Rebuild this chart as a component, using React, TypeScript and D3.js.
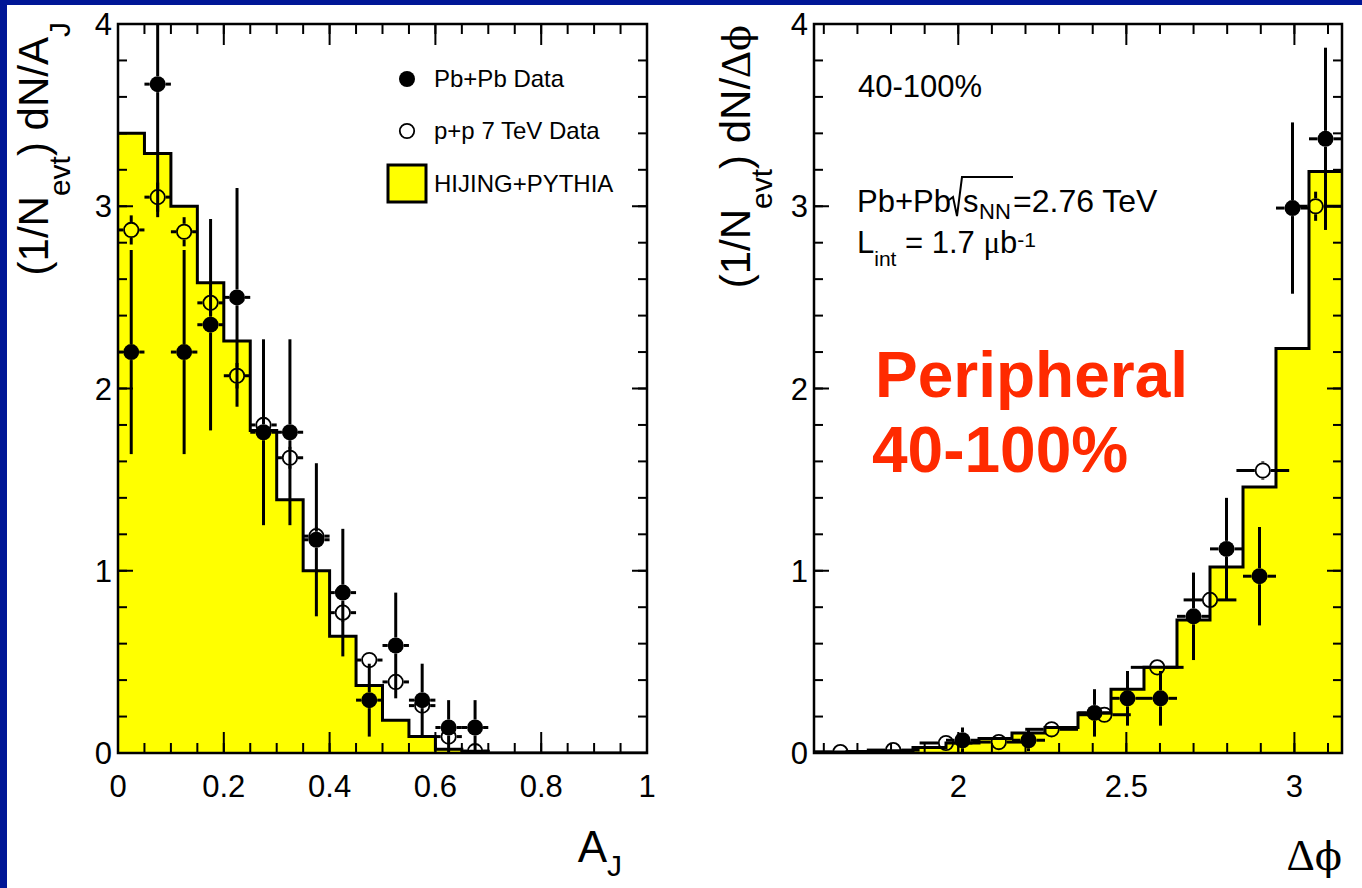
import React from 'react';
import * as d3 from 'd3';

// ---------------- Data: left panel (A_J) ----------------
const ajEdges = [0, 0.05, 0.1, 0.15, 0.2, 0.25, 0.3, 0.35, 0.4, 0.45, 0.5, 0.55, 0.6, 0.65, 0.7, 0.75, 0.8, 0.85, 0.9, 0.95, 1.0];
const ajHijing = [3.40, 3.29, 3.00, 2.58, 2.26, 1.77, 1.39, 1.00, 0.64, 0.37, 0.18, 0.09, 0.02, 0.01, 0, 0, 0, 0, 0, 0];
const ajCenters = [0.025, 0.075, 0.125, 0.175, 0.225, 0.275, 0.325, 0.375, 0.425, 0.475, 0.525, 0.575, 0.625, 0.675];
const ajPbPb = [2.20, 3.67, 2.20, 2.35, 2.50, 1.76, 1.76, 1.17, 0.88, 0.29, 0.59, 0.29, 0.14, 0.14];
const ajPbPbErr = [0.56, 0.73, 0.56, 0.58, 0.60, 0.51, 0.51, 0.42, 0.35, 0.20, 0.29, 0.20, 0.15, 0.15];
const ajPP = [2.87, 3.05, 2.86, 2.47, 2.07, 1.80, 1.62, 1.19, 0.77, 0.51, 0.39, 0.26, 0.09, 0.01];
const ajPPErr = [0.08, 0.08, 0.08, 0.07, 0.07, 0.06, 0.06, 0.05, 0.05, 0.04, 0.04, 0.03, 0.03, 0.02];
const ajHalfWidth = 0.025;

// ---------------- Data: right panel (Delta phi) ----------------
const dphiEdges = [1.5708, 1.6690, 1.7671, 1.8653, 1.9635, 2.0617, 2.1598, 2.2580, 2.3562, 2.4544, 2.5525, 2.6507, 2.7489, 2.8471, 2.9452, 3.0434, 3.1416];
const dphiHijing = [0.005, 0.008, 0.012, 0.03, 0.055, 0.08, 0.11, 0.14, 0.22, 0.35, 0.47, 0.73, 1.02, 1.46, 2.22, 3.19];
const dphiPbPbX = [2.0126, 2.2089, 2.4053, 2.5035, 2.6016, 2.6998, 2.7980, 2.8962, 2.9943, 3.0925];
const dphiPbPb = [0.07, 0.07, 0.22, 0.30, 0.30, 0.75, 1.12, 0.97, 2.99, 3.37];
const dphiPbPbErr = [0.07, 0.06, 0.13, 0.15, 0.15, 0.24, 0.28, 0.27, 0.47, 0.50];
const dphiPbPbHalf = 0.0491;
const dphiPPX = [1.6493, 1.8064, 1.9635, 2.1206, 2.2777, 2.4347, 2.5918, 2.7489, 2.9060, 3.0631];
const dphiPP = [0.005, 0.016, 0.055, 0.06, 0.13, 0.21, 0.47, 0.84, 1.55, 3.00];
const dphiPPErr = [0.005, 0.006, 0.01, 0.01, 0.015, 0.02, 0.03, 0.04, 0.05, 0.08];
const dphiPPHalf = 0.0785;

const yDomain = [0, 4];

const W = 1362;
const H = 888;
const SANS = '"Liberation Sans", Arial, Helvetica, sans-serif';
const SERIF = '"Liberation Serif", "Times New Roman", serif';
const PHI_FONT = '"DejaVu Serif", "Liberation Serif", serif';
const YELLOW = '#ffff00';
const BLUE = '#001696';
const RED = '#ff2a00';
const fmt = d3.format('~g');

type Series = { x: number[]; y: number[]; err: number[]; half: number; filled: boolean };

function Points({ s, x, y, r }: { s: Series; x: d3.ScaleLinear<number, number>; y: d3.ScaleLinear<number, number>; r: number }) {
  const bars: JSX.Element[] = [];
  const marks: JSX.Element[] = [];
  s.x.forEach((xv, i) => {
    const cx = x(xv);
    const cy = y(s.y[i]);
    const top = y(s.y[i] + s.err[i]);
    const bot = y(s.y[i] - s.err[i]);
    const lx = x(xv - s.half);
    const rx = x(xv + s.half);
    const segs: [number, number, number, number][] = [];
    if (cy - top > r) segs.push([cx, top, cx, cy - r]);
    if (bot - cy > r) segs.push([cx, cy + r, cx, bot]);
    if (cx - lx > r) segs.push([lx, cy, cx - r, cy]);
    if (rx - cx > r) segs.push([cx + r, cy, rx, cy]);
    segs.forEach((g, j) =>
      bars.push(<line key={`b${i}-${j}`} x1={g[0]} y1={g[1]} x2={g[2]} y2={g[3]} stroke="#000" strokeWidth={3} />)
    );
    marks.push(
      s.filled ? (
        <circle key={`m${i}`} cx={cx} cy={cy} r={r} fill="#000" />
      ) : (
        <circle key={`m${i}`} cx={cx} cy={cy} r={r - 0.8} fill="none" stroke="#000" strokeWidth={1.8} />
      )
    );
  });
  return (
    <g>
      <g>{bars}</g>
      <g>{marks}</g>
    </g>
  );
}

function Panel(props: {
  id: string;
  x0: number; x1: number; y0: number; y1: number;
  xDomain: number[];
  edges: number[]; hist: number[];
  series: Series[];
  xMajorCount: number; xMinorCount: number;
}) {
  const { id, x0, x1, y0, y1, xDomain, edges, hist, series, xMajorCount, xMinorCount } = props;
  const x = d3.scaleLinear().domain(xDomain).range([x0, x1]);
  const y = d3.scaleLinear().domain(yDomain).range([y1, y0]);
  const pts: [number, number][] = edges.map((e, i) => [e, hist[Math.min(i, hist.length - 1)]]);
  const area = d3.area<[number, number]>().x(d => x(d[0])).y0(y(0)).y1(d => y(d[1])).curve(d3.curveStepAfter);
  const line = d3.line<[number, number]>().x(d => x(d[0])).y(d => y(d[1])).curve(d3.curveStepAfter);
  const xMaj = x.ticks(xMajorCount);
  const xMin = x.ticks(xMinorCount);
  const yMaj = y.ticks(4);
  const yMin = y.ticks(20);
  const XMAJ = 21, XMIN = 10, YMAJ = 15, YMIN = 9;
  return (
    <g>
      <defs>
        <clipPath id={id}>
          <rect x={x0} y={y0} width={x1 - x0} height={y1 - y0} />
        </clipPath>
      </defs>
      <rect x={x0} y={y0} width={x1 - x0} height={y1 - y0} fill="#fff" />
      <path d={area(pts) || ''} fill={YELLOW} />
      <path d={line(pts) || ''} fill="none" stroke="#000" strokeWidth={3} clipPath={`url(#${id})`} />
      <g stroke="#000" strokeWidth={2}>
        {xMin.map((t, i) => (
          <g key={`xm${i}`}>
            <line x1={x(t)} x2={x(t)} y1={y1} y2={y1 - XMIN} />
            <line x1={x(t)} x2={x(t)} y1={y0} y2={y0 + XMIN} />
          </g>
        ))}
        {xMaj.map((t, i) => (
          <g key={`xM${i}`}>
            <line x1={x(t)} x2={x(t)} y1={y1} y2={y1 - XMAJ} />
            <line x1={x(t)} x2={x(t)} y1={y0} y2={y0 + XMAJ} />
          </g>
        ))}
        {yMin.map((t, i) => (
          <g key={`ym${i}`}>
            <line x1={x0} x2={x0 + YMIN} y1={y(t)} y2={y(t)} />
            <line x1={x1} x2={x1 - YMIN} y1={y(t)} y2={y(t)} />
          </g>
        ))}
        {yMaj.map((t, i) => (
          <g key={`yM${i}`}>
            <line x1={x0} x2={x0 + YMAJ} y1={y(t)} y2={y(t)} />
            <line x1={x1} x2={x1 - YMAJ} y1={y(t)} y2={y(t)} />
          </g>
        ))}
      </g>
      <rect x={x0} y={y0} width={x1 - x0} height={y1 - y0} fill="none" stroke="#000" strokeWidth={2.5} />
      <g fontFamily={SANS} fontSize={31} fill="#000">
        {xMaj.map((t, i) => (
          <text key={`xl${i}`} x={x(t)} y={797} textAnchor="middle">{fmt(t)}</text>
        ))}
        {yMaj.map((t, i) => (
          <text key={`yl${i}`} x={x0 - 6} y={y(t) + 11} textAnchor="end">{fmt(t)}</text>
        ))}
      </g>
      <g clipPath={`url(#${id})`}>
        {series.map((s, k) => (
          <Points key={k} s={s} x={x} y={y} r={8} />
        ))}
      </g>
    </g>
  );
}

export default function App() {
  const leftSeries: Series[] = [
    { x: ajCenters, y: ajPP, err: ajPPErr, half: ajHalfWidth, filled: false },
    { x: ajCenters, y: ajPbPb, err: ajPbPbErr, half: ajHalfWidth, filled: true },
  ];
  const rightSeries: Series[] = [
    { x: dphiPPX, y: dphiPP, err: dphiPPErr, half: dphiPPHalf, filled: false },
    { x: dphiPbPbX, y: dphiPbPb, err: dphiPbPbErr, half: dphiPbPbHalf, filled: true },
  ];
  return (
    <svg width={W} height={H} style={{ position: 'absolute', left: 0, top: 0 }} xmlns="http://www.w3.org/2000/svg">
      <rect x={0} y={0} width={W} height={H} fill="#fff" />
      <rect x={0} y={0} width={W} height={5} fill={BLUE} />
      <rect x={0} y={0} width={7} height={H} fill={BLUE} />

      <Panel id="clipL" x0={118} x1={647} y0={24} y1={753} xDomain={[0, 1]}
        edges={ajEdges} hist={ajHijing} series={leftSeries} xMajorCount={5} xMinorCount={20} />
      <Panel id="clipR" x0={814} x1={1342} y0={24} y1={753} xDomain={[1.5708, 3.1416]}
        edges={dphiEdges} hist={dphiHijing} series={rightSeries} xMajorCount={3} xMinorCount={15} />

      {/* Left y title */}
      <text transform="translate(48,22) rotate(-90)" textAnchor="end" fontFamily={SANS} fontSize={42}>
        (1/N<tspan fontSize={30} dy={22}>evt</tspan><tspan dy={-22}>) dN/A</tspan><tspan fontSize={30} dy={22}>J</tspan>
      </text>
      {/* Right y title */}
      <text transform="translate(750,25) rotate(-90)" textAnchor="end" fontFamily={SANS} fontSize={42}>
        (1/N<tspan fontSize={30} dy={22}>evt</tspan><tspan dy={-22}>) dN/</tspan><tspan fontFamily={SERIF}>Δ</tspan><tspan fontFamily={PHI_FONT} fontSize={38}>ϕ</tspan>
      </text>

      {/* x titles */}
      <text x={622} y={862} textAnchor="end" fontFamily={SANS} fontSize={44}>
        A<tspan fontSize={30} dy={14}>J</tspan>
      </text>
      <text x={1342} y={870} textAnchor="end" fontFamily={SERIF} fontSize={44}>
        Δ<tspan fontFamily={PHI_FONT} fontSize={40}>ϕ</tspan>
      </text>

      {/* Legend */}
      <circle cx={407} cy={79} r={8} fill="#000" />
      <circle cx={407} cy={131} r={7.2} fill="none" stroke="#000" strokeWidth={1.8} />
      <rect x={388} y={165} width={38} height={37} fill={YELLOW} stroke="#000" strokeWidth={3} />
      <g fontFamily={SANS} fontSize={24}>
        <text x={434} y={87}>Pb+Pb Data</text>
        <text x={434} y={139}>p+p 7 TeV Data</text>
        <text x={434} y={192}>HIJING+PYTHIA</text>
      </g>

      {/* Right annotations */}
      <g fontFamily={SANS} fontSize={31}>
        <text x={858} y={97}>40-100%</text>
        <text x={857} y={212}>Pb+Pb</text>
        <path d="M949,200 L953,197 L957,216 L962,177 L1013,177" fill="none" stroke="#000" strokeWidth={2} />
        <text x={963} y={212}>s</text>
        <text x={979} y={219} fontSize={22}>NN</text>
        <text x={1013} y={212} fontSize={32}>=2.76 TeV</text>
        <text x={857} y={253}>
          L<tspan fontSize={21} dy={13}>int</tspan><tspan dy={-13}> = 1.7 </tspan><tspan fontFamily={SERIF}>μ</tspan>b<tspan fontSize={21} dy={-6}>-1</tspan>
        </text>
      </g>
      <g fontFamily={SANS} fontSize={64} fontWeight="bold" fill={RED}>
        <text x={875} y={397}>Peripheral</text>
        <text x={872} y={472}>40-100%</text>
      </g>
    </svg>
  );
}
